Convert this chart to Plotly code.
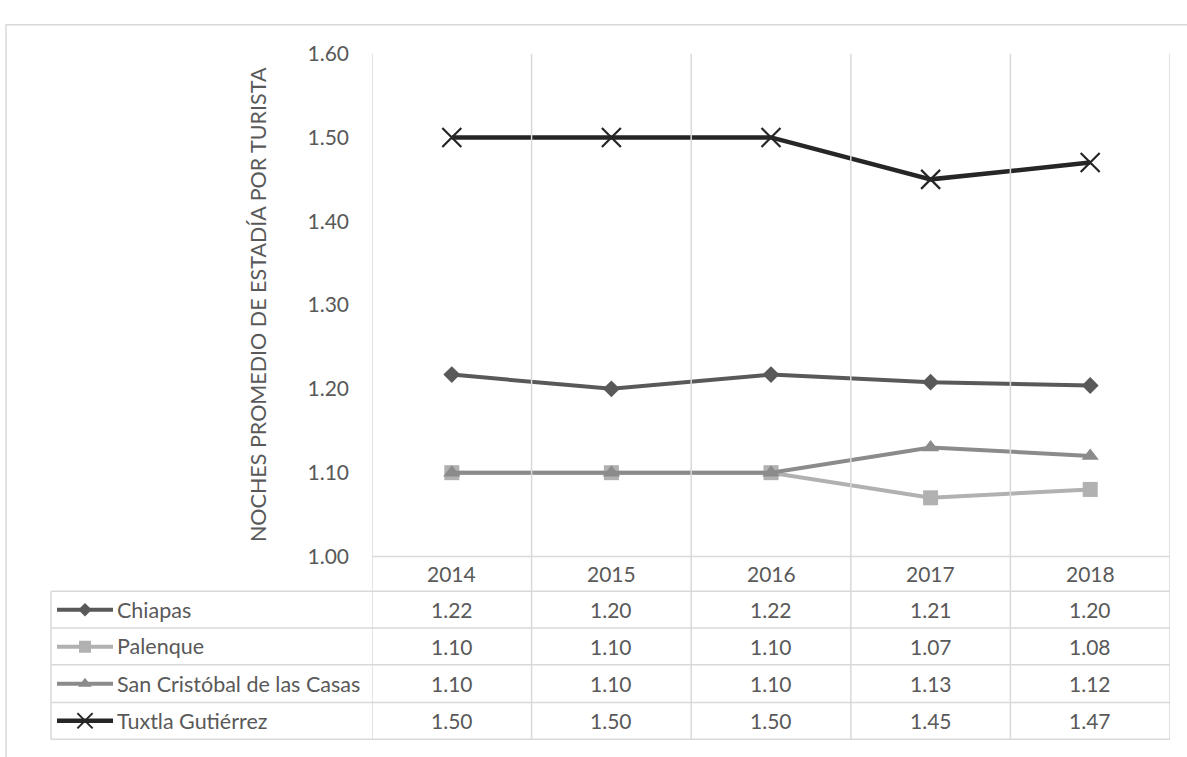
import plotly.graph_objects as go

# ---------------- data ----------------
years = ["2014", "2015", "2016", "2017", "2018"]
series_names = ["Chiapas", "Palenque", "San Cristóbal de las Casas", "Tuxtla Gutiérrez"]
chiapas = [1.217, 1.200, 1.217, 1.208, 1.204]
palenque = [1.10, 1.10, 1.10, 1.07, 1.08]
san_cristobal = [1.10, 1.10, 1.10, 1.13, 1.12]
tuxtla = [1.50, 1.50, 1.50, 1.45, 1.47]
y_title = "NOCHES PROMEDIO DE ESTADÍA POR TURISTA"

series_values = [chiapas, palenque, san_cristobal, tuxtla]

# ---------------- styles ----------------
colors = ["#595959", "#b1b1b1", "#8b8b8b", "#262626"]
symbols = ["diamond", "square", "triangle-up", "x-thin"]
msizes = [13, 15, 15, 19]
lwidths = [4, 4, 4, 4.5]
FONT = "Lato"
FS = 21
TXT = "#595959"
GRID = "#d9d9d9"

W, H = 1187, 757
def px(x):
    return x / W
def py(y):
    return 1 - y / H

# layout geometry in pixels
PL, PR, PT, PB = 372, 1170, 41, 561        # plot area
TL = 51                                     # table left edge
row_lines = [597, 635, 673, 712, 750]       # horizontal lines below header
TB = row_lines[-1]

fig = go.Figure()

idx = list(range(len(years)))
for name, vals, c, s, ms, lw in zip(series_names, series_values, colors, symbols, msizes, lwidths):
    mk = dict(symbol=s, size=ms, color=c)
    if s == "x-thin":
        mk["line"] = dict(color=c, width=2.2)
    fig.add_trace(go.Scatter(x=idx, y=vals, mode="lines+markers", name=name,
                             line=dict(color=c, width=lw), marker=mk,
                             showlegend=False, hoverinfo="skip"))

# legend keys inside the data table (secondary axes)
for i, (name, c, s, ms, lw) in enumerate(zip(series_names, colors, symbols, msizes, lwidths)):
    fig.add_trace(go.Scatter(x=[0, 1], y=[i + 0.5, i + 0.5], mode="lines",
                             line=dict(color=c, width=lw), xaxis="x2", yaxis="y2",
                             showlegend=False, hoverinfo="skip"))
    mk = dict(symbol=s, size=ms * 0.8, color=c)
    if s == "x-thin":
        mk["line"] = dict(color=c, width=2)
    fig.add_trace(go.Scatter(x=[0.5], y=[i + 0.5], mode="markers", marker=mk,
                             xaxis="x2", yaxis="y2", showlegend=False, hoverinfo="skip"))

shapes = []
# outer chart border
shapes.append(dict(type="rect", xref="paper", yref="paper", x0=px(6), x1=1.05,
                   y0=-0.05, y1=py(11), line=dict(color=GRID, width=1.5)))
# vertical gridlines / table column lines at category boundaries
for i in range(len(years) + 1):
    shapes.append(dict(type="line", xref="x", yref="paper", x0=i - 0.5, x1=i - 0.5,
                       y0=py(TB), y1=py(PT), line=dict(color=GRID, width=1.5)))
# table header top (axis line)
shapes.append(dict(type="line", xref="paper", yref="paper", x0=px(PL), x1=px(PR),
                   y0=py(PB), y1=py(PB), line=dict(color=GRID, width=1.5)))
# table row lines
for yl in row_lines:
    shapes.append(dict(type="line", xref="paper", yref="paper", x0=px(TL), x1=px(PR),
                       y0=py(yl), y1=py(yl), line=dict(color=GRID, width=1.5)))
# table left edge
shapes.append(dict(type="line", xref="paper", yref="paper", x0=px(TL), x1=px(TL),
                   y0=py(TB), y1=py(row_lines[0]), line=dict(color=GRID, width=1.5)))

annotations = []
font = dict(family=FONT, size=FS, color=TXT)
# header years
for i, yr in enumerate(years):
    annotations.append(dict(x=i, y=py((PB + row_lines[0]) / 2), xref="x", yref="paper",
                            text=yr, showarrow=False, font=font, xanchor="center", yanchor="middle"))
# rows
for r, (name, vals) in enumerate(zip(series_names, series_values)):
    yc = (row_lines[r] + row_lines[r + 1]) / 2
    annotations.append(dict(x=px(115), y=py(yc), xref="paper", yref="paper", text=name,
                            showarrow=False, font=dict(family=FONT, size=FS + 0.5, color=TXT),
                            xanchor="left", yanchor="middle"))
    for i, v in enumerate(vals):
        annotations.append(dict(x=i, y=py(yc), xref="x", yref="paper", text=f"{v:.2f}",
                                showarrow=False, font=font, xanchor="center", yanchor="middle"))
# y-axis title
annotations.append(dict(x=px(258), y=py((PT + PB) / 2), xref="paper", yref="paper",
                        text=y_title, textangle=-90, showarrow=False,
                        font=dict(family=FONT, size=21.5, color=TXT),
                        xanchor="center", yanchor="middle"))

fig.update_layout(
    width=W, height=H,
    margin=dict(l=0, r=0, t=0, b=0),
    paper_bgcolor="white", plot_bgcolor="white",
    font=dict(family=FONT, size=FS, color=TXT),
    xaxis=dict(domain=[px(PL), px(PR)], range=[-0.5, len(years) - 0.5],
               showgrid=False, zeroline=False, showline=False, showticklabels=False,
               fixedrange=True),
    yaxis=dict(domain=[py(PB), py(PT)], range=[1.0, 1.6], dtick=0.1, tick0=1.0,
               tickformat=".2f", showgrid=False, zeroline=False, showline=False,
               ticks="", ticklabelstandoff=22, tickfont=dict(family=FONT, size=FS, color=TXT),
               fixedrange=True),
    xaxis2=dict(domain=[px(57), px(113)], range=[0, 1], visible=False, anchor="y2"),
    yaxis2=dict(domain=[py(TB), py(row_lines[0])], range=[len(series_names), 0],
                visible=False, anchor="x2"),
    shapes=shapes,
    annotations=annotations,
)

page_css = ("document.documentElement.style.margin='0';"
            "document.body.style.margin='0';"
            "document.documentElement.style.overflow='hidden';"
            "document.body.style.overflow='hidden';")

fig.write_html("out.html", post_script=page_css, config={"displayModeBar": False})
